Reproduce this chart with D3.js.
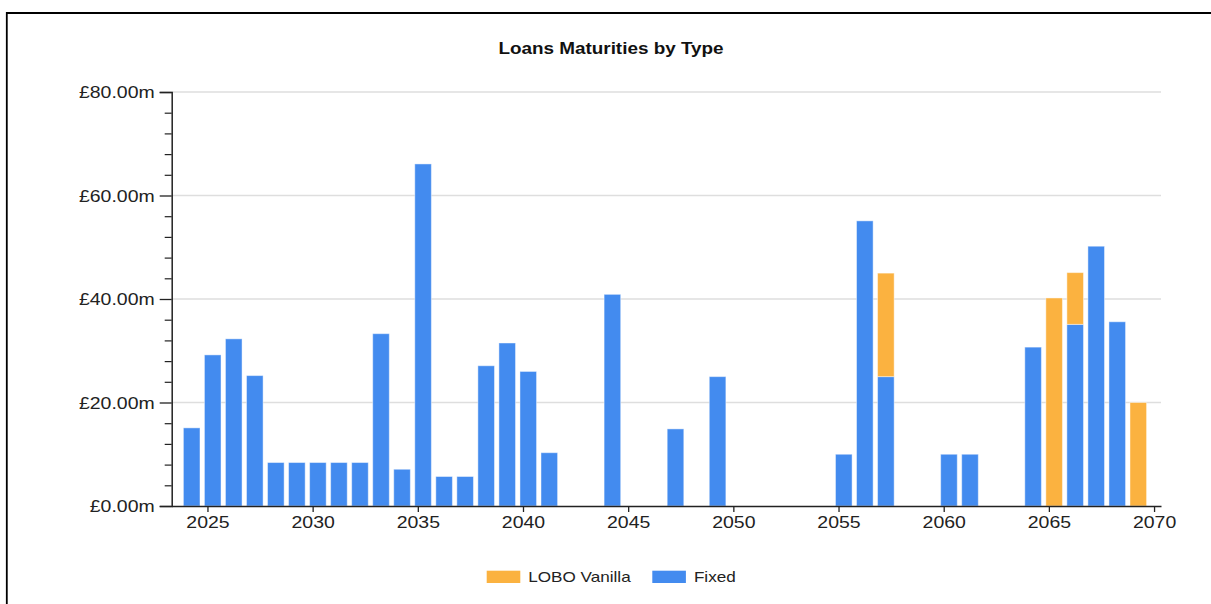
<!DOCTYPE html>
<html>
<head>
<meta charset="utf-8">
<script src="https://cdn.jsdelivr.net/npm/d3@7"></script>
<style>
  html, body { margin: 0; padding: 0; background: #fff; }
  svg { display: block; font-family: "Liberation Sans", Arial, sans-serif; }
</style>
</head>
<body>
<svg id="chart" width="1211" height="604"></svg>
<script>
// ---- Data ----
const title = "Loans Maturities by Type";
const seriesNames = ["LOBO Vanilla", "Fixed"];
const seriesColors = ["#FBB240", "#438BEF"];
const years = [2024, 2025, 2026, 2027, 2028, 2029, 2030, 2031, 2032, 2033, 2034, 2035, 2036, 2037,
               2038, 2039, 2040, 2041, 2044, 2047, 2049, 2055, 2056, 2057, 2060, 2061, 2064, 2065,
               2066, 2067, 2068, 2069];
const fixed = [15.1, 29.2, 32.3, 25.2, 8.4, 8.4, 8.4, 8.4, 8.4, 33.3, 7.1, 66.1, 5.7, 5.7,
               27.1, 31.5, 26.0, 10.3, 40.9, 14.9, 25.0, 10.0, 55.1, 25.0, 10.0, 10.0, 30.7, 0,
               35.1, 50.2, 35.6, 0];
const lobo  = [0, 0, 0, 0, 0, 0, 0, 0, 0, 0, 0, 0, 0, 0,
               0, 0, 0, 0, 0, 0, 0, 0, 0, 20.0, 0, 0, 0, 40.2,
               10.0, 0, 0, 20.0];
const xTicks = [2025, 2030, 2035, 2040, 2045, 2050, 2055, 2060, 2065, 2070];
const yTicks = [0, 20, 40, 60, 80];
const yMinorTicks = [4, 8, 12, 16, 24, 28, 32, 36, 44, 48, 52, 56, 64, 68, 72, 76];
const xDomain = [2023.3, 2070.33];
const yDomain = [0, 80];

// ---- Layout ----
const svg = d3.select("#chart");
const plot = { left: 171.7, right: 1161, top: 92, bottom: 506 };
const stretch = 1.18;
const barOffset = 0.25;
const barWidth = 16.6;

const x = d3.scaleLinear().domain(xDomain).range([plot.left, plot.right]);
const y = d3.scaleLinear().domain(yDomain).range([plot.bottom, plot.top]);

// frame
svg.append("line").attr("x1", 6).attr("x2", 1211).attr("y1", 13).attr("y2", 13)
  .attr("stroke", "#000").attr("stroke-width", 2);
svg.append("line").attr("x1", 6.8).attr("x2", 6.8).attr("y1", 12).attr("y2", 604)
  .attr("stroke", "#000").attr("stroke-width", 1.8);

// title
svg.append("text").attr("class", "st")
  .attr("x", 611).attr("y", 53.5).attr("text-anchor", "middle")
  .attr("font-size", 16).attr("font-weight", "bold").attr("fill", "#111")
  .text(title);

// grid
svg.append("g").selectAll("line").data(yTicks.filter(d => d > 0)).join("line")
  .attr("x1", plot.left).attr("x2", plot.right)
  .attr("y1", d => y(d)).attr("y2", d => y(d))
  .attr("stroke", "#dedede").attr("stroke-width", 1.3);

// bars
const rows = years.map((yr, i) => ({ year: yr, fixed: fixed[i], lobo: lobo[i] }));
const stack = d3.stack().keys(["fixed", "lobo"])(rows);
const colorFor = { fixed: seriesColors[1], lobo: seriesColors[0] };
svg.append("g").selectAll("g").data(stack).join("g")
  .attr("fill", d => colorFor[d.key])
  .selectAll("rect").data(d => d.filter(s => s[1] - s[0] > 0)).join("rect")
  .attr("x", d => x(d.data.year + barOffset) - barWidth / 2)
  .attr("width", barWidth)
  .attr("y", d => y(d[1]))
  .attr("height", d => y(d[0]) - y(d[1]))
  .attr("stroke", "rgba(255,255,255,0.45)").attr("stroke-width", 1);

// y axis
const yAxis = svg.append("g").attr("transform", `translate(${plot.left},0)`)
  .call(d3.axisLeft(y).tickValues(yTicks).tickSize(12).tickPadding(5)
    .tickFormat(d => "£" + d3.format(".2f")(d) + "m"));
yAxis.select(".domain").attr("stroke", "#222").attr("stroke-width", 1.5);
yAxis.selectAll(".tick line").attr("stroke", "#222").attr("stroke-width", 1.3);
yAxis.selectAll(".tick text").attr("class", "st").attr("font-size", 16.5)
  .attr("font-family", "Liberation Sans, Arial, sans-serif").attr("fill", "#222")
  .attr("dy", "0.36em");
const yMinor = svg.append("g").attr("transform", `translate(${plot.left},0)`)
  .call(d3.axisLeft(y).tickValues(yMinorTicks).tickSize(7).tickFormat(""));
yMinor.select(".domain").remove();
yMinor.selectAll(".tick line").attr("stroke", "#222").attr("stroke-width", 1.2);

// x axis
const xAxis = svg.append("g").attr("transform", `translate(0,${plot.bottom})`)
  .call(d3.axisBottom(x).tickValues(xTicks).tickSize(6).tickPadding(4).tickSizeOuter(0)
    .tickFormat(d3.format("d")));
xAxis.select(".domain").attr("stroke", "#222").attr("stroke-width", 1.5);
xAxis.selectAll(".tick line").attr("stroke", "#222").attr("stroke-width", 1.3);
xAxis.selectAll(".tick text").attr("class", "st").attr("font-size", 16.5)
  .attr("font-family", "Liberation Sans, Arial, sans-serif").attr("fill", "#222")
  .attr("dy", "0.71em");

// legend
const legendX = [486.7, 652.3];
const legend = svg.append("g").selectAll("g").data(seriesNames).join("g")
  .attr("transform", (d, i) => `translate(${legendX[i]},570.7)`);
legend.append("rect").attr("width", 33.6).attr("height", 12.3)
  .attr("fill", (d, i) => seriesColors[i]);
legend.append("text").attr("class", "st").attr("x", 41.6).attr("y", 11.3)
  .attr("font-size", 14.5).attr("fill", "#222").text(d => d);

// horizontal stretch of text to match reference rendering
svg.selectAll("text.st").each(function () {
  const len = this.getComputedTextLength();
  if (len > 0) {
    d3.select(this).attr("textLength", len * stretch).attr("lengthAdjust", "spacingAndGlyphs");
  }
});
</script>
</body>
</html>
